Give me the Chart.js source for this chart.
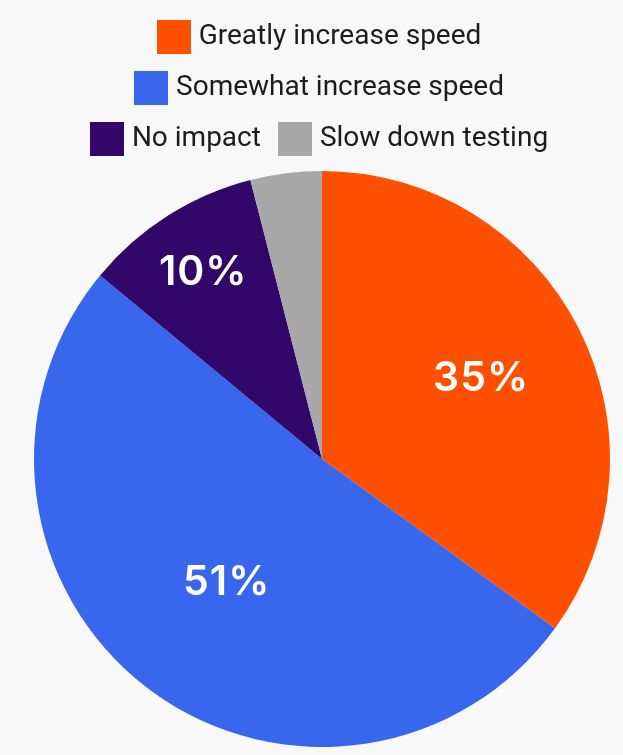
<!DOCTYPE html>
<html>
<head>
<meta charset="utf-8">
<script src="https://cdn.jsdelivr.net/npm/chart.js@4/dist/chart.umd.min.js"></script>
<style>
  html, body { margin: 0; padding: 0; background: #f8f8f8; }
  #wrap { width: 623px; height: 755px; position: relative; }
</style>
</head>
<body>
<div id="wrap"><canvas id="myChart"></canvas></div>
<script>
// chart data
var categories = ['Greatly increase speed', 'Somewhat increase speed', 'No impact', 'Slow down testing'];
var shares = [35, 51, 10, 4];
var sliceColors = ['#ff4f00', '#3867ee', '#32076a', '#a8a8a8'];
var shownLabels = ['35%', '51%', '10%', ''];

// how far out each percent label sits (fraction of radius)
var labelRadius = [0.62, 0.54, 0.77, 0.6];

// square legend swatches, bigger than the text
function makeSwatch(color){
    var c = document.createElement('canvas');
    c.width = 34;
    c.height = 34;
    var g = c.getContext('2d');
    g.fillStyle = color;
    g.fillRect(0, 0, 34, 34);
    return c;
}
var swatches = sliceColors.map(makeSwatch);

var percentLabels = {
    id: 'percentLabels',
    afterDatasetsDraw: function(chart){
        var ctx = chart.ctx;
        var meta = chart.getDatasetMeta(0);
        ctx.save();
        ctx.fillStyle = '#ffffff';
        ctx.font = '600 41px Inter';
        ctx.letterSpacing = '1px';
        ctx.textAlign = 'center';
        ctx.textBaseline = 'middle';
        meta.data.forEach(function(arc, i){
            if (!shownLabels[i]) return;
            var mid = (arc.startAngle + arc.endAngle) / 2;
            var r = arc.outerRadius * labelRadius[i];
            ctx.fillText(shownLabels[i], arc.x + Math.cos(mid) * r, arc.y + Math.sin(mid) * r + 1);
        });
        ctx.restore();
    }
};

var ctx = document.getElementById('myChart').getContext('2d');
var pieChart = new Chart(ctx, {
    type: 'pie',
    data: {
        labels: categories,
        datasets: [{
            data: shares,
            backgroundColor: sliceColors,
            borderWidth: 0
        }]
    },
    options: {
        responsive: true,
        maintainAspectRatio: false,
        animation: false,
        layout: { padding: { top: 0, bottom: 0, left: 34, right: 13 } },
        plugins: {
            tooltip: { enabled: false },
            legend: {
                position: 'top',
                labels: {
                    usePointStyle: true,
                    pointStyleWidth: 22,
                    padding: 23,
                    color: '#1c1c1c',
                    font: { family: 'Roboto', size: 28 },
                    generateLabels: function(chart){
                        var items = Chart.overrides.pie.plugins.legend.labels.generateLabels(chart);
                        items.forEach(function(item, i){
                            item.pointStyle = swatches[i];
                        });
                        return items;
                    }
                }
            }
        }
    },
    plugins: [percentLabels]
});
</script>
</body>
</html>
